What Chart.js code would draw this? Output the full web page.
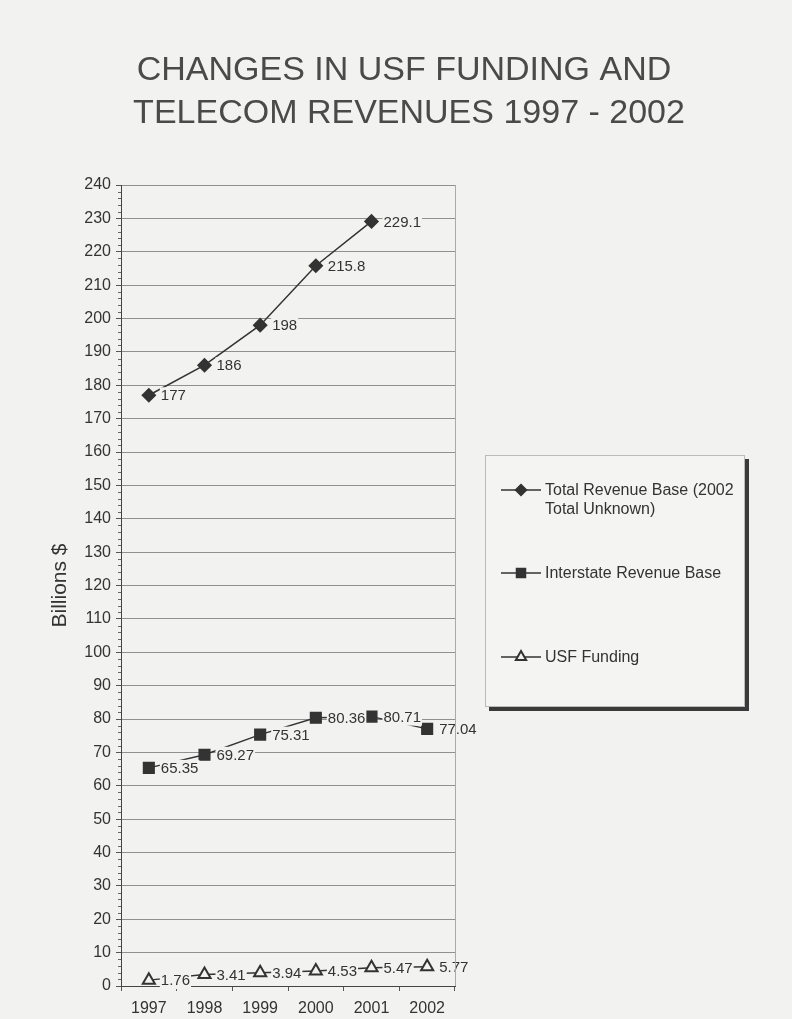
<!DOCTYPE html>
<html>
<head>
<meta charset="utf-8">
<script src="https://cdn.jsdelivr.net/npm/chart.js@4.4.0/dist/chart.umd.min.js"></script>
<style>
  html, body { margin: 0; padding: 0; background: #f2f2f0; }
  canvas { display: block; }
</style>
</head>
<body>
<canvas id="chart" width="792" height="1019"></canvas>
<script>
// Categories and series values (billions of dollars)
const years = ['1997', '1998', '1999', '2000', '2001', '2002'];
const totalRevenue = [177, 186, 198, 215.8, 229.1, null];
const interstateRevenue = [65.35, 69.27, 75.31, 80.36, 80.71, 77.04];
const usfFunding = [1.76, 3.41, 3.94, 4.53, 5.47, 5.77];

const seriesNames = ['Total Revenue Base (2002 Total Unknown)', 'Interstate Revenue Base', 'USF Funding'];
const titleLines = ['CHANGES IN USF FUNDING AND', 'TELECOM REVENUES 1997 - 2002'];
const axisTitle = 'Billions $';
const yMin = 0, yMax = 240, yStep = 10, yMinorStep = 2;

const PAPER = '#f2f2f0';
const INK = '#333333';
const FONT = "'Liberation Sans', Arial, sans-serif";

// Two-line heading above the plot
const headingPlugin = {
  id: 'heading',
  afterDraw(chart) {
    const ctx = chart.ctx;
    ctx.save();
    ctx.fillStyle = '#4a4a4a';
    ctx.font = '34px ' + FONT;
    ctx.textAlign = 'center';
    ctx.textBaseline = 'alphabetic';
    ctx.fillText(titleLines[0], 404, 80);
    ctx.fillText(titleLines[1], 409, 123);
    ctx.restore();
  }
};

// Minor tick marks on the value axis and the light right border of the plot
const axisExtras = {
  id: 'axisExtras',
  afterDraw(chart) {
    const ctx = chart.ctx;
    const y = chart.scales.y;
    const area = chart.chartArea;
    ctx.save();
    ctx.strokeStyle = '#666';
    ctx.lineWidth = 1;
    ctx.beginPath();
    for (let v = yMin; v <= yMax; v += yMinorStep) {
      if (v % yStep === 0) continue;
      const py = Math.round(y.getPixelForValue(v)) + 0.5;
      ctx.moveTo(area.left - 3, py);
      ctx.lineTo(area.left, py);
    }
    ctx.stroke();
    ctx.strokeStyle = '#aaa';
    ctx.beginPath();
    ctx.moveTo(Math.round(area.right) + 0.5, area.top);
    ctx.lineTo(Math.round(area.right) + 0.5, area.bottom);
    ctx.stroke();
    ctx.restore();
  }
};

// Value labels to the right of each point, on an opaque paper-coloured patch
const valueLabels = {
  id: 'valueLabels',
  afterDatasetsDraw(chart) {
    const ctx = chart.ctx;
    ctx.save();
    ctx.font = '15px ' + FONT;
    ctx.textBaseline = 'middle';
    ctx.textAlign = 'left';
    chart.data.datasets.forEach((ds, i) => {
      const meta = chart.getDatasetMeta(i);
      meta.data.forEach((pt, j) => {
        const v = ds.data[j];
        if (v === null || v === undefined) return;
        const text = String(v);
        const w = ctx.measureText(text).width;
        const x = pt.x + 12;
        const y = pt.y;
        ctx.fillStyle = PAPER;
        ctx.fillRect(x - 1, y - 8, w + 2, 17);
        ctx.fillStyle = INK;
        ctx.fillText(text, x, y + 1);
      });
    });
    ctx.restore();
  }
};

// Boxed legend with drop shadow to the right of the plot
const boxedLegend = {
  id: 'boxedLegend',
  afterDraw(chart) {
    const ctx = chart.ctx;
    const box = { x: 485, y: 455, w: 260, h: 252 };
    const rows = [490, 573, 657];
    ctx.save();
    ctx.fillStyle = '#3a3a3a';
    ctx.fillRect(box.x + 4, box.y + 4, box.w, box.h);
    ctx.fillStyle = '#f4f4f2';
    ctx.fillRect(box.x, box.y, box.w, box.h);
    ctx.strokeStyle = '#bbb';
    ctx.lineWidth = 1;
    ctx.strokeRect(box.x + 0.5, box.y + 0.5, box.w - 1, box.h - 1);

    ctx.font = '16px ' + FONT;
    ctx.textBaseline = 'middle';
    ctx.textAlign = 'left';
    chart.data.datasets.forEach((ds, i) => {
      const cy = rows[i];
      ctx.strokeStyle = ds.borderColor;
      ctx.lineWidth = 1.5;
      ctx.beginPath();
      ctx.moveTo(501, cy);
      ctx.lineTo(541, cy);
      ctx.stroke();
      ctx.fillStyle = ds.pointBackgroundColor;
      ctx.strokeStyle = ds.pointBorderColor;
      ctx.lineWidth = ds.pointBorderWidth;
      Chart.helpers.drawPoint(ctx, {
        pointStyle: ds.pointStyle, radius: ds.pointRadius * 0.85,
        borderWidth: ds.pointBorderWidth, rotation: 0
      }, 521, cy);

      // wrap the series name inside the box
      const maxW = box.x + box.w - 545 - 6;
      const words = ds.label.split(' ');
      const lines = [];
      let cur = '';
      words.forEach(wd => {
        const t = cur ? cur + ' ' + wd : wd;
        if (ctx.measureText(t).width > maxW && cur) { lines.push(cur); cur = wd; }
        else cur = t;
      });
      lines.push(cur);
      ctx.fillStyle = INK;
      lines.forEach((ln, k) => ctx.fillText(ln, 545, cy + 1 + k * 19));
    });
    ctx.restore();
  }
};

const common = {
  borderColor: INK,
  borderWidth: 1.5,
  pointBorderColor: INK,
  pointBorderWidth: 1.5,
  pointHoverRadius: 6,
  tension: 0,
  fill: false
};

new Chart(document.getElementById('chart'), {
  type: 'line',
  data: {
    labels: years,
    datasets: [
      Object.assign({}, common, {
        label: seriesNames[0], data: totalRevenue,
        pointStyle: 'rectRot', pointRadius: 6.5, pointBackgroundColor: INK
      }),
      Object.assign({}, common, {
        label: seriesNames[1], data: interstateRevenue,
        pointStyle: 'rect', pointRadius: 7.5, pointBackgroundColor: INK
      }),
      Object.assign({}, common, {
        label: seriesNames[2], data: usfFunding,
        pointStyle: 'triangle', pointRadius: 7, pointBorderWidth: 2, pointBackgroundColor: PAPER
      })
    ]
  },
  options: {
    responsive: false,
    animation: false,
    layout: { padding: { top: 185, right: 337, bottom: 0, left: 0 } },
    plugins: {
      legend: { display: false },
      title: { display: false },
      tooltip: { enabled: false }
    },
    scales: {
      x: {
        offset: true,
        afterFit(scale) { scale.height = 33; },
        grid: { offset: true, drawOnChartArea: false, tickLength: 5, color: '#555' },
        border: { color: '#444', width: 1 },
        ticks: { color: INK, font: { family: FONT, size: 16 }, padding: 8, maxRotation: 0 }
      },
      y: {
        min: yMin, max: yMax,
        afterFit(scale) { scale.width = 121; },
        ticks: { stepSize: yStep, color: INK, font: { family: FONT, size: 16 }, padding: 5 },
        grid: { color: '#909090', tickColor: '#555', tickLength: 5 },
        border: { color: '#444', width: 1 },
        title: {
          display: true, text: axisTitle, color: INK,
          font: { family: FONT, size: 21 },
          padding: { top: 48, bottom: 0 }
        }
      }
    }
  },
  plugins: [headingPlugin, axisExtras, valueLabels, boxedLegend]
});
</script>
</body>
</html>
